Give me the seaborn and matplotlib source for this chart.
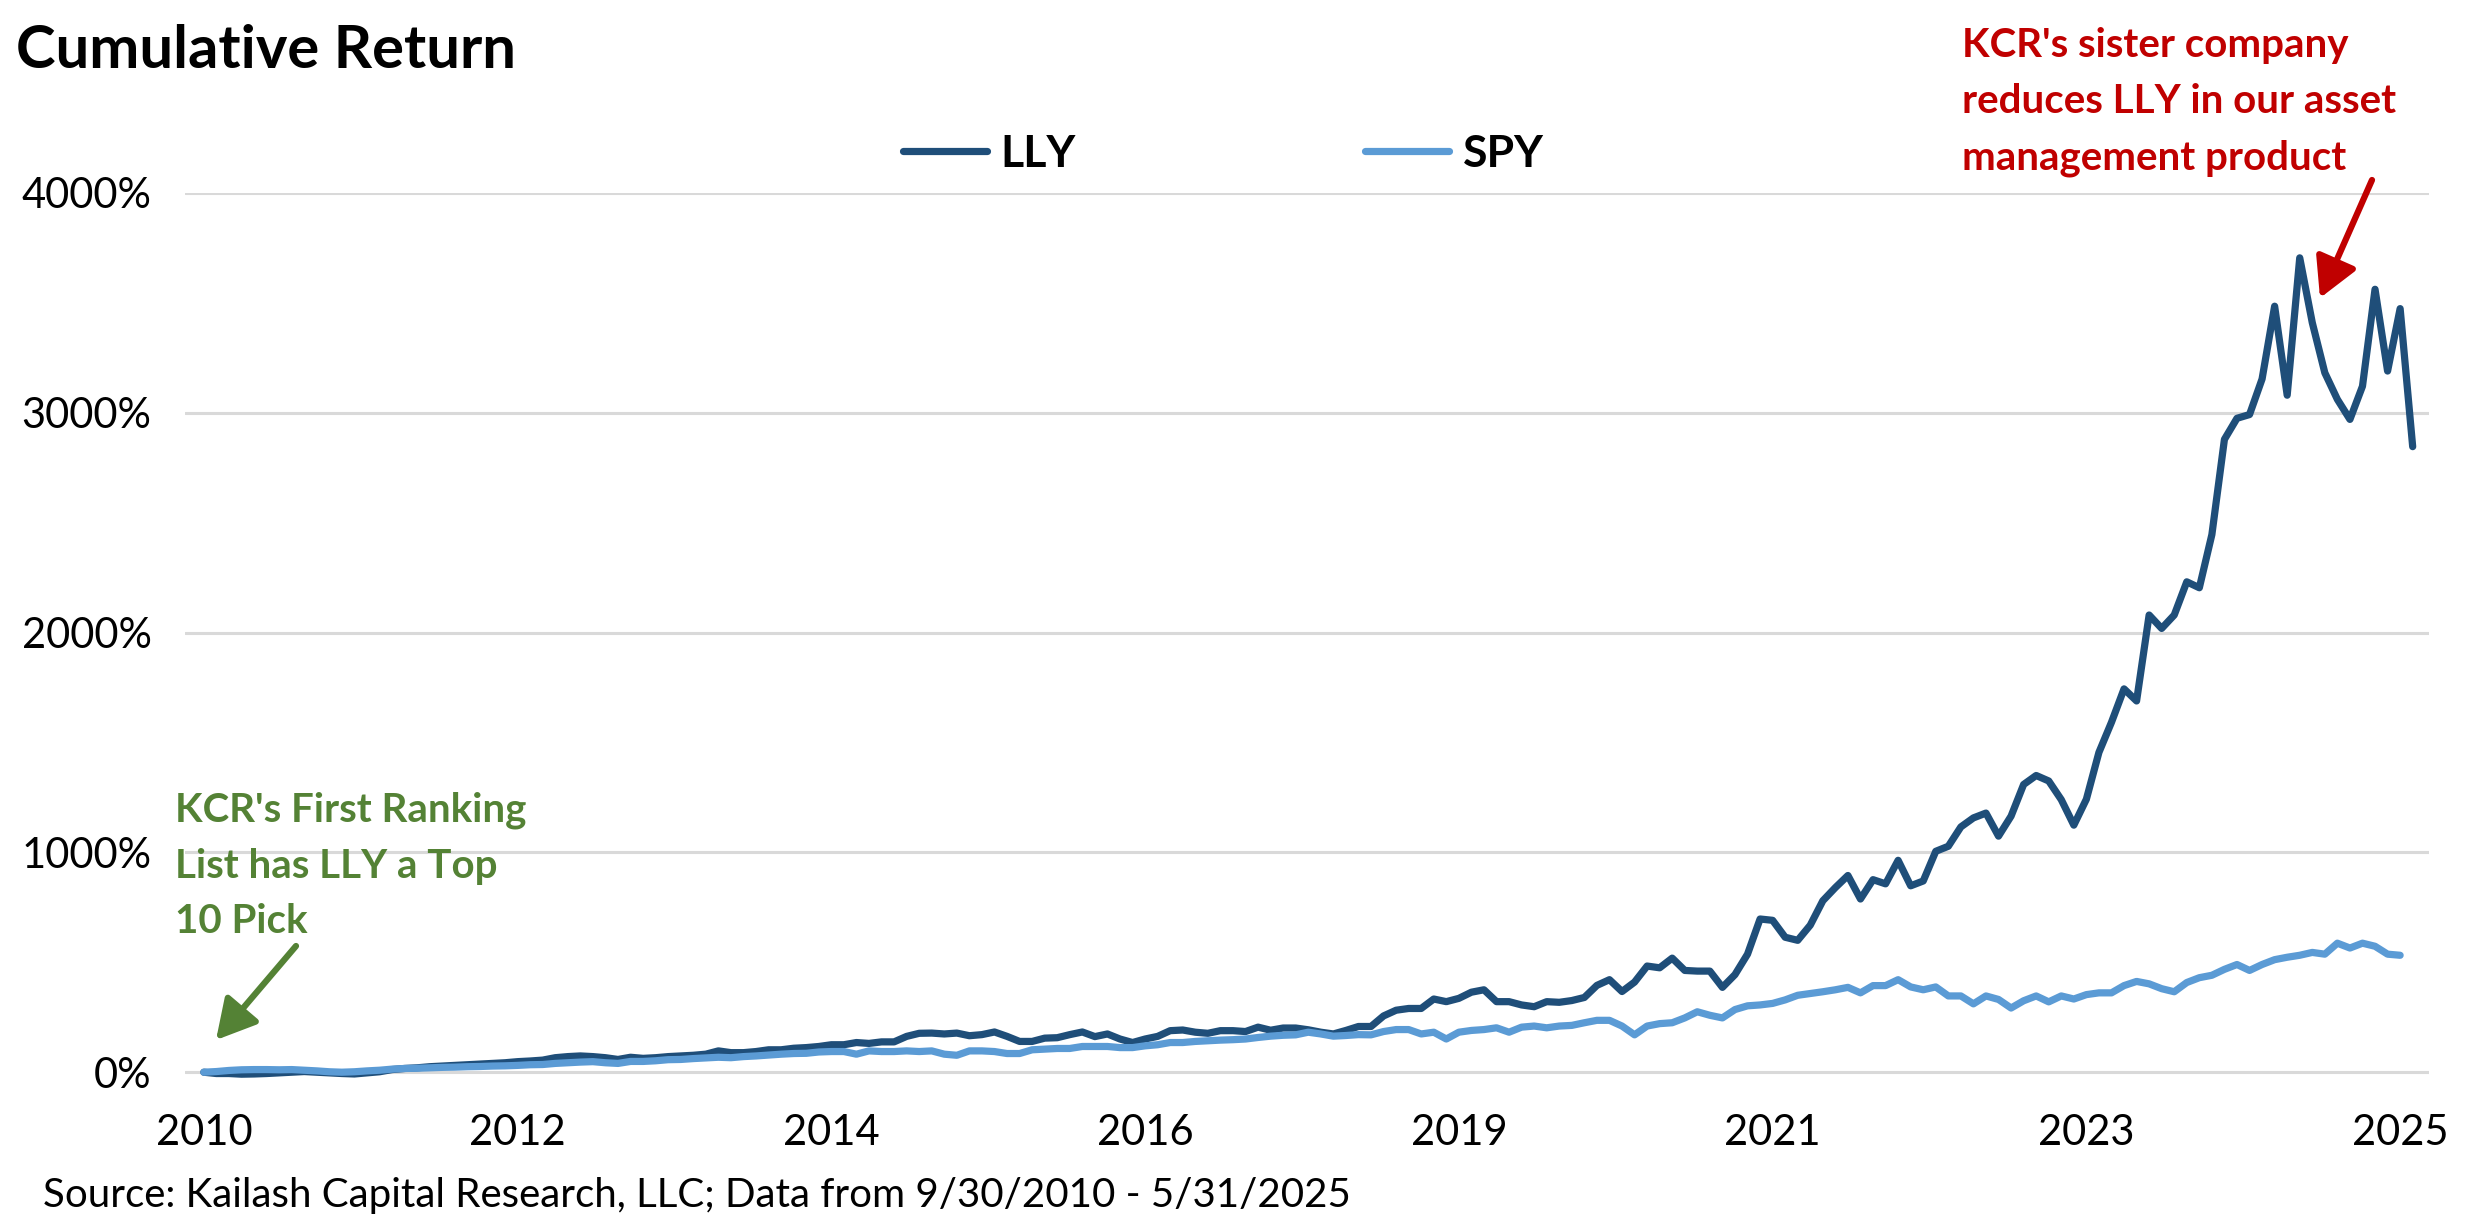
import numpy as np
import pandas as pd
import seaborn as sns
import matplotlib.pyplot as plt

# Monthly cumulative return in %, 9/30/2010 - 5/31/2025
dates = pd.date_range('2010-09-30', '2025-05-31', freq='ME')

lly_return = [
    0, -6, -6, -9, -8, -6, -3, 0, 3, 0, -3, -6, -8, -3, 2, 12, 17, 20, 25, 28,
    31, 34, 37, 40, 43, 48, 51, 55, 66, 71, 74, 71, 66, 58, 68, 63, 66, 71, 74, 77,
    82, 97, 89, 89, 94, 102, 102, 109, 112, 117, 125, 125, 135, 131, 138, 138, 163, 177, 178, 174,
    178, 166, 171, 183, 163, 140, 140, 155, 157, 171, 183, 162, 174, 151, 135, 151, 163, 189, 192, 182,
    177, 189, 189, 185, 205, 191, 201, 201, 193, 182, 174, 190, 208, 208, 256, 282, 290, 290, 333, 321,
    336, 364, 375, 321, 321, 306, 298, 321, 318, 326, 340, 395, 421, 367, 410, 483, 475, 519, 463, 460,
    460, 386, 444, 537, 697, 691, 614, 600, 669, 780, 840, 895, 788, 876, 857, 964, 848, 870, 1005, 1028,
    1116, 1157, 1179, 1074, 1165, 1309, 1350, 1325, 1240, 1124, 1242, 1455, 1592, 1744, 1689, 2080, 2019, 2080, 2231, 2204,
    2446, 2879, 2975, 2992, 3154, 3485, 3080, 3705, 3410, 3182, 3061, 2970, 3121, 3562, 3190, 3474, 2846,
]

# SPY line stops one month earlier
spy_return = [
    0, 3, 8, 11, 12, 12, 11, 12, 9, 6, 2, 0, 2, 6, 9, 14, 17, 18, 20, 22,
    23, 25, 26, 28, 29, 31, 34, 35, 40, 43, 46, 48, 43, 40, 49, 49, 52, 57, 58, 62,
    65, 68, 66, 71, 74, 78, 82, 85, 86, 92, 94, 94, 82, 97, 94, 94, 97, 94, 97, 82,
    77, 97, 97, 94, 85, 85, 102, 105, 108, 108, 117, 117, 117, 112, 112, 120, 125, 135, 135, 140,
    143, 146, 148, 151, 158, 164, 168, 170, 182, 174, 164, 167, 171, 170, 185, 194, 194, 174, 182, 151,
    182, 190, 194, 202, 182, 205, 210, 202, 210, 213, 225, 236, 236, 210, 170, 210, 221, 225, 247, 275,
    259, 247, 285, 302, 306, 313, 329, 350, 358, 366, 375, 386, 361, 394, 394, 421, 388, 375, 388, 347,
    347, 311, 347, 331, 292, 325, 347, 320, 347, 333, 353, 361, 361, 394, 413, 402, 380, 366, 408, 430,
    441, 468, 490, 463, 490, 512, 523, 532, 545, 537, 587, 565, 587, 573, 537, 532, np.nan,
]

tickers = ['LLY', 'SPY']
colors = ['#1F4E79', '#5B9BD5']
y_ticks = [0, 1000, 2000, 3000, 4000]
label_step = 25

df = pd.DataFrame({'month': np.arange(len(dates)), 'LLY': lly_return, 'SPY': spy_return})
long_df = df.melt(id_vars='month', var_name='ticker', value_name='ret').dropna()

sns.set_theme(style='white')
plt.rcParams['font.family'] = ['Lato', 'DejaVu Sans']
plt.rcParams['text.color'] = 'black'

W, H = 2475, 1221
fig = plt.figure(figsize=(W / 100, H / 100), dpi=100)
ax = fig.add_axes([185 / W, 1 - 1081 / H, (2429 - 185) / W, (1081 - 193) / H])

sns.lineplot(data=long_df, x='month', y='ret', hue='ticker', hue_order=tickers,
             palette=colors, linewidth=5.2, errorbar=None, ax=ax,
             solid_joinstyle='round', solid_capstyle='round')

ax.set_xlim(-1.5, 177.3)
ax.set_ylim(-40, 4000)
ax.set_yticks(y_ticks)
ax.set_yticklabels([f'{v}%' for v in y_ticks])
xt = np.arange(0, len(dates), label_step)
ax.set_xticks(xt)
ax.set_xticklabels(dates[xt].year)
ax.set_xlabel('')
ax.set_ylabel('')
ax.grid(axis='y', color='#D9D9D9', linewidth=2.2)
ax.grid(axis='x', visible=False)
ax.set_axisbelow(True)
for s in ax.spines.values():
    s.set_visible(False)
ax.tick_params(axis='both', length=0, labelsize=30, colors='black')
ax.tick_params(axis='y', pad=24)
ax.tick_params(axis='x', pad=24)

# legend on top
handles, labels = ax.get_legend_handles_labels()
leg = ax.legend(handles, labels, loc='center left', bbox_to_anchor=(903 / W, 1 - 154 / H),
                bbox_transform=fig.transFigure, ncol=2, frameon=False,
                prop={'weight': 'bold', 'size': 32}, handlelength=1.9,
                handletextpad=0.3, columnspacing=6.5, borderpad=0, borderaxespad=0)
for line in leg.get_lines():
    line.set_linewidth(5.2)
for t in leg.get_texts():
    t.set_color('black')

fig.text(16 / W, 1 - 51 / H, 'Cumulative Return', fontsize=43, fontweight='bold',
         ha='left', va='center')

green = '#548235'
red = '#C00000'
fig.text(175 / W, 1 - 866 / H, "KCR's First Ranking\nList has LLY a Top\n10 Pick",
         color=green, fontsize=29, fontweight='bold', ha='left', va='center', linespacing=1.62)
fig.text(1962 / W, 1 - 102 / H, "KCR's sister company\nreduces LLY in our asset\nmanagement product",
         color=red, fontsize=29, fontweight='bold', ha='left', va='center', linespacing=1.65)

ax.annotate('', xy=(216 / W, 1 - 1040 / H), xytext=(296 / W, 1 - 946 / H),
            xycoords='figure fraction', textcoords='figure fraction', annotation_clip=False,
            arrowprops=dict(arrowstyle='-|>,head_length=0.6,head_width=0.33', mutation_scale=40,
                            lw=4.5, color=green, shrinkA=0, shrinkB=0))
ax.annotate('', xy=(2320 / W, 1 - 298 / H), xytext=(2372 / W, 1 - 180 / H),
            xycoords='figure fraction', textcoords='figure fraction', annotation_clip=False,
            arrowprops=dict(arrowstyle='-|>,head_length=0.6,head_width=0.33', mutation_scale=40,
                            lw=4.5, color=red, shrinkA=0, shrinkB=0))

fig.text(43 / W, 1 - 1195 / H, 'Source: Kailash Capital Research, LLC; Data from 9/30/2010 - 5/31/2025',
         fontsize=29, ha='left', va='center')

fig.savefig('out.png', dpi=100)
